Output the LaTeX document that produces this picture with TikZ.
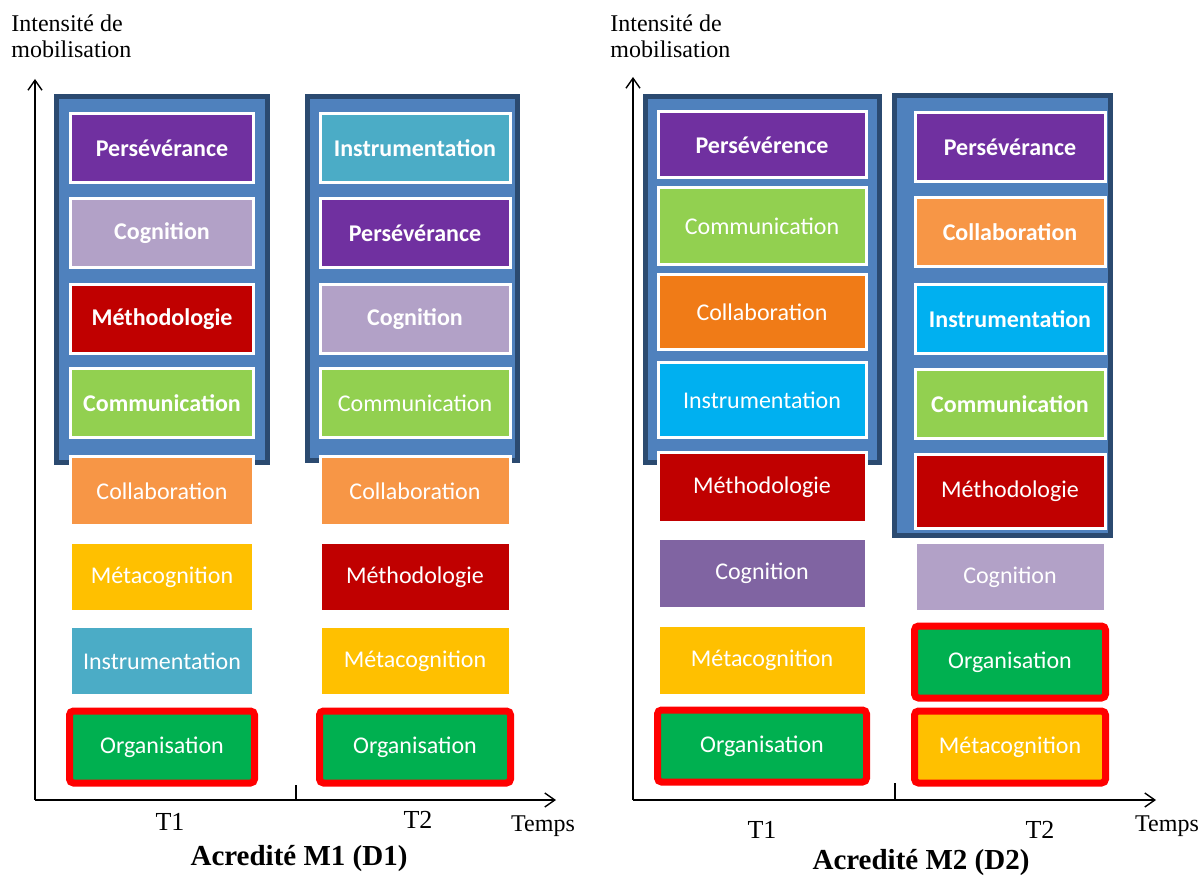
\documentclass[tikz,border=0pt]{standalone}
\usepackage{fontspec}
\setmainfont{Liberation Serif}
\newfontfamily\boxfont{Carlito}
\usepackage{tikz}
\usetikzlibrary{arrows.meta}

\definecolor{cadrebleu}{HTML}{4F81BD}
\definecolor{cadrebord}{HTML}{2B4A70}
\definecolor{perse}{HTML}{7030A0}
\definecolor{cogn}{HTML}{B2A1C7}
\definecolor{cognb}{HTML}{8064A2}
\definecolor{metho}{HTML}{C00000}
\definecolor{commu}{HTML}{92D050}
\definecolor{collab}{HTML}{F79646}
\definecolor{collabb}{HTML}{F07B17}
\definecolor{meta}{HTML}{FFC000}
\definecolor{instru}{HTML}{4BACC6}
\definecolor{instrub}{HTML}{00B0F0}
\definecolor{orga}{HTML}{00B050}

\tikzset{
  etape/.style={draw=white, line width=1.5pt, text=white, inner sep=0pt,
    minimum height=34.5pt, font=\boxfont\fontsize{12}{13}\selectfont},
  gras/.style={font=\boxfont\bfseries\fontsize{12}{13}\selectfont},
  rouge/.style={draw=red, line width=3.5pt, rounded corners=2pt, minimum height=36pt},
  cadre/.style={draw=cadrebord, fill=cadrebleu, line width=2.5pt},
  axe/.style={line width=0.7pt, -{Straight Barb[length=5pt,width=7pt]}},
  legende/.style={font=\fontsize{12}{13}\selectfont, inner sep=0pt},
  colA/.style={minimum width=91.5pt},
  colB/.style={minimum width=95pt},
  colC/.style={minimum width=104pt},
  colD/.style={minimum width=95pt}
}

\begin{document}
\begin{tikzpicture}[x=0.5pt, y=-0.5pt]

  \useasboundingbox (0,0) rectangle (1202,877);

  % acredite M1
  \draw[cadre] (56,97) rectangle (267,462);
  \draw[cadre] (307,97) rectangle (517,460);

  \node[etape, gras, colA, fill=perse] (a1) at (162,148) {Persévérance};
  \node[etape, gras, colA, fill=cogn] (a2) at (162,233) {Cognition};
  \node[etape, gras, colA, fill=metho] (a3) at (162,319) {Méthodologie};
  \node[etape, gras, colA, fill=commu] (a4) at (162,403) {Communication};
  \node[etape, colA, fill=collab] (a5) at (162,491) {Collaboration};
  \node[etape, colA, fill=meta] (a6) at (162,577) {Métacognition};
  \node[etape, colA, fill=instru] (a7) at (162,661) {Instrumentation};
  \node[etape, rouge, minimum width=92.5pt, fill=orga] (a8) at (162,747) {Organisation};

  \node[etape, gras, colB, fill=instru] (b1) at (415,148) {Instrumentation};
  \node[etape, gras, colB, fill=perse] (b2) at (415,233) {Persévérance};
  \node[etape, gras, colB, fill=cogn] (b3) at (415,319) {Cognition};
  \node[etape, colB, fill=commu] (b4) at (415,403) {Communication};
  \node[etape, colB, fill=collab] (b5) at (415,491) {Collaboration};
  \node[etape, colB, fill=metho] (b6) at (415,577) {Méthodologie};
  \node[etape, colB, fill=meta] (b7) at (415,661) {Métacognition};
  \node[etape, rouge, minimum width=95.5pt, fill=orga] (b8) at (415,747) {Organisation};

  \coordinate (o1) at (35,800);
  \coordinate (y1) at (35,79);
  \coordinate (x1) at (556,800);
  \coordinate (t1) at (296,785);
  \draw[axe] (o1) -- (y1);
  \draw[axe] (o1) -- (x1);
  \draw[line width=0.7pt] (t1) -- (t1 |- o1);

  \node[legende, anchor=north west, align=left] (int1) at (11,14) {Intensité de\\mobilisation};
  \node[legende, font=\fontsize{13}{14}\selectfont] (p11) at (170,822) {T1};
  \node[legende, font=\fontsize{13}{14}\selectfont] (p12) at (418,820) {T2};
  \node[legende] (temps1) at (543,826) {Temps};
  \node[legende, font=\bfseries\fontsize{14.5}{15}\selectfont] (titre1) at (299,858) {Acredité M1 (D1)};

  % acredite M2
  \draw[cadre] (645,97) rectangle (879,462);
  \draw[cadre] (894,96) rectangle (1110,535);

  \node[etape, gras, colC, minimum height=33pt, fill=perse] (c1) at (762,145) {Persévérence};
  \node[etape, colC, minimum height=38.5pt, fill=commu] (c2) at (762,226) {Communication};
  \node[etape, colC, minimum height=37.5pt, fill=collabb] (c3) at (762,312) {Collaboration};
  \node[etape, colC, minimum height=37.5pt, fill=instrub] (c4) at (762,400) {Instrumentation};
  \node[etape, colC, minimum height=35pt, fill=metho] (c5) at (762,487) {Méthodologie};
  \node[etape, colC, minimum height=35pt, fill=cognb] (c6) at (762,573) {Cognition};
  \node[etape, colC, minimum height=35pt, fill=meta] (c7) at (762,660) {Métacognition};
  \node[etape, rouge, minimum width=104.5pt, fill=orga] (c8) at (762,746) {Organisation};

  \node[etape, gras, colD, fill=perse] (d1) at (1010,147) {Persévérance};
  \node[etape, gras, colD, fill=collab] (d2) at (1010,232) {Collaboration};
  \node[etape, gras, colD, fill=instrub] (d3) at (1010,319) {Instrumentation};
  \node[etape, gras, colD, fill=commu] (d4) at (1010,404) {Communication};
  \node[etape, colD, minimum height=37pt, fill=metho] (d5) at (1010,491) {Méthodologie};
  \node[etape, colD, fill=cogn] (d6) at (1010,577) {Cognition};
  \node[etape, rouge, minimum width=95.5pt, fill=orga] (d7) at (1010,662) {Organisation};
  \node[etape, rouge, minimum width=95.5pt, fill=meta] (d8) at (1010,747) {Métacognition};

  \coordinate (o2) at (633,800);
  \coordinate (y2) at (633,77);
  \coordinate (x2) at (1156,800);
  \coordinate (t2) at (895,783);
  \draw[axe] (o2) -- (y2);
  \draw[axe] (o2) -- (x2);
  \draw[line width=0.7pt] (t2) -- (t2 |- o2);

  \node[legende, anchor=north west, align=left] (int2) at (610,14) {Intensité de\\mobilisation};
  \node[legende, font=\fontsize{13}{14}\selectfont] (p21) at (762,830) {T1};
  \node[legende, font=\fontsize{13}{14}\selectfont] (p22) at (1040,830) {T2};
  \node[legende] (temps2) at (1167,826) {Temps};
  \node[legende, font=\bfseries\fontsize{14.5}{15}\selectfont] (titre2) at (921,862) {Acredité M2 (D2)};

\end{tikzpicture}
\end{document}
